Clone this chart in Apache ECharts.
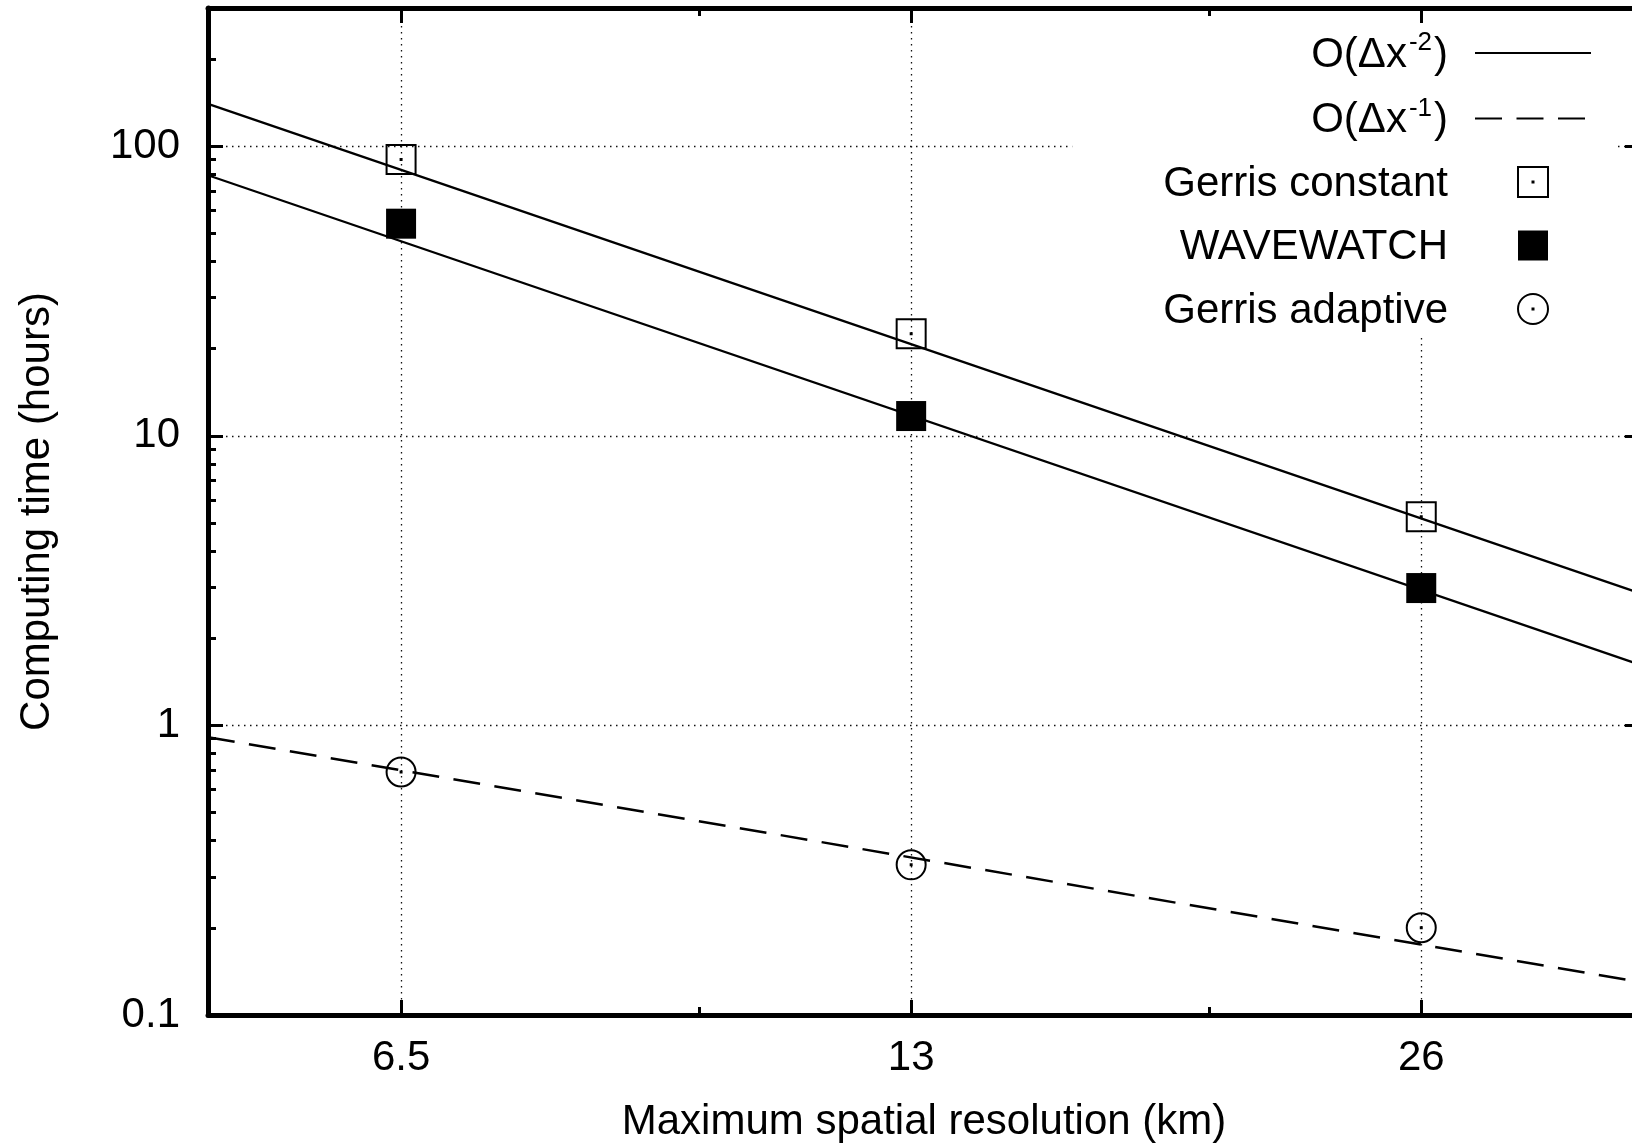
<!DOCTYPE html>
<html>
<head>
<meta charset="utf-8">
<script src="https://cdn.jsdelivr.net/npm/echarts@6.0.0/dist/echarts.min.js"></script>
<style>
  html, body { margin: 0; padding: 0; background: #fff; }
  #chart { width: 1632px; height: 1147px; }
</style>
</head>
<body>
<div id="chart"></div>
<script>
// x: maximum spatial resolution (km), y: computing time (hours)
const resolutions = [6.5, 13, 26];
const xMinorTicks = [9.75, 19.5];
const yMajorTicks = [0.1, 1, 10, 100];
const yMinorTicks = [0.2, 0.3, 0.4, 0.5, 0.6, 0.7, 0.8, 0.9,
  2, 3, 4, 5, 6, 7, 8, 9, 20, 30, 40, 50, 60, 70, 80, 90, 200];

const gerrisConstant = [90, 22.5, 5.25];
const wavewatch = [54, 11.7, 2.98];
const gerrisAdaptive = [0.69, 0.33, 0.2];

// reference slopes, end values read at the plot edges
const slopeX = [5, 35];
const slope2Upper = [140, 2.86];
const slope2Lower = [79.4, 1.62];
const slope1 = [0.91, 0.13];

const FONT = 'Liberation Sans, Arial, Helvetica, sans-serif';
const FS = 42;
const black = '#000';
const clear = 'rgba(0,0,0,0)';
const openSquare = 'path://M0,0H30V30H0Z M14.5,14.5H15.5V15.5H14.5Z';
const fullSquare = 'path://M0,0H30V30H0Z';
const openCircle = 'path://M0,15A15,15,0,1,1,30,15A15,15,0,1,1,0,15Z M14.5,14.5H15.5V15.5H14.5Z';

const O2 = 'O(Δx^-2)';
const O1 = 'O(Δx^-1)';

function zip(xs, ys) {
  return xs.map((x, i) => [x, ys[i]]);
}

function tickAxis(kind, position, ticks, length, extra) {
  const base = kind === 'x'
    ? { type: 'log', logBase: 2, min: 5, max: 35 }
    : { type: 'log', logBase: 10, min: 0.1, max: 300 };
  return Object.assign(base, {
    position: position,
    axisLine: { show: false },
    axisTick: { show: true, inside: true, length: length, customValues: ticks,
      lineStyle: { color: black, width: 3 } },
    axisLabel: { show: false },
    splitLine: { show: false }
  }, extra || {});
}

const border = { show: true, onZero: false, lineStyle: { color: black, width: 5 } };
const dotted = { show: true, lineStyle: { color: '#111', width: 1.3, type: [1.5, 4.5] } };
const fmt = v => String(+Number(v).toPrecision(3));

const chart = echarts.init(document.getElementById('chart'));
chart.setOption({
  animation: false,
  grid: { left: 208, width: 1432, top: 8, height: 1007, outerBoundsMode: 'none', containLabel: false },
  xAxis: [
    tickAxis('x', 'bottom', resolutions, 15, {
      axisLine: border,
      axisLabel: { show: true, customValues: resolutions, formatter: fmt,
        color: black, fontFamily: FONT, fontSize: FS, margin: 22 },
      splitLine: dotted,
      name: 'Maximum spatial resolution (km)', nameLocation: 'middle', nameGap: 86,
      nameTextStyle: { color: black, fontFamily: FONT, fontSize: FS }
    }),
    tickAxis('x', 'bottom', xMinorTicks, 8),
    tickAxis('x', 'top', resolutions, 15, { axisLine: border }),
    tickAxis('x', 'top', xMinorTicks, 8)
  ],
  yAxis: [
    tickAxis('y', 'left', yMajorTicks, 15, {
      axisLine: border,
      axisLabel: { show: true, customValues: yMajorTicks, formatter: fmt,
        color: black, fontFamily: FONT, fontSize: FS, margin: 28 },
      splitLine: dotted,
      name: 'Computing time (hours)', nameLocation: 'middle', nameGap: 150,
      nameTextStyle: { color: black, fontFamily: FONT, fontSize: FS }
    }),
    tickAxis('y', 'left', yMinorTicks, 8),
    tickAxis('y', 'right', yMajorTicks, 15, { axisLine: border }),
    tickAxis('y', 'right', yMinorTicks, 8)
  ],
  legend: {
    orient: 'vertical', align: 'right', right: 15, top: 24,
    padding: [6, 25, 6, 91], backgroundColor: '#fff',
    itemWidth: 116, itemHeight: 30, itemGap: 19.5, selectedMode: false,
    textStyle: {
      color: black, fontFamily: FONT, fontSize: FS,
      rich: {
        t: { color: black, fontFamily: FONT, fontSize: FS, lineHeight: 46, verticalAlign: 'bottom' },
        s: { color: black, fontFamily: FONT, fontSize: 26, lineHeight: 10, verticalAlign: 'top',
          padding: [0, 2, 0, 2] },
        g: { width: 22, fontSize: FS, lineHeight: 46 }
      }
    },
    formatter: function (name) {
      if (name === O2) return '{t|O(Δx}{s|-2}{t|)}{g| }';
      if (name === O1) return '{t|O(Δx}{s|-1}{t|)}{g| }';
      return '{t|' + name + '}{g| }';
    },
    data: [
      { name: O2, itemStyle: { color: clear, borderWidth: 0 } },
      { name: O1, itemStyle: { color: clear, borderWidth: 0 } },
      { name: 'Gerris constant', icon: openSquare,
        itemStyle: { color: clear, borderColor: black, borderWidth: 2, opacity: 1 } },
      { name: 'WAVEWATCH', icon: fullSquare, itemStyle: { color: black, borderWidth: 0, opacity: 1 } },
      { name: 'Gerris adaptive', icon: openCircle,
        itemStyle: { color: clear, borderColor: black, borderWidth: 2, opacity: 1 } }
    ]
  },
  series: [
    { name: O2, type: 'line', symbol: 'none', data: zip(slopeX, slope2Upper),
      itemStyle: { color: clear }, lineStyle: { color: black, width: 2.2 } },
    { name: O2, type: 'line', symbol: 'none', data: zip(slopeX, slope2Lower),
      itemStyle: { color: clear }, lineStyle: { color: black, width: 2.2 } },
    { name: O1, type: 'line', symbol: 'none', data: zip(slopeX, slope1),
      itemStyle: { color: clear }, lineStyle: { color: black, width: 2.5, type: [27, 14.5] } },
    { name: 'Gerris constant', type: 'scatter', symbol: openSquare, symbolSize: 29,
      data: zip(resolutions, gerrisConstant),
      itemStyle: { color: clear, borderColor: black, borderWidth: 2, opacity: 1 } },
    { name: 'WAVEWATCH', type: 'scatter', symbol: 'rect', symbolSize: 30,
      data: zip(resolutions, wavewatch), itemStyle: { color: black, opacity: 1 } },
    { name: 'Gerris adaptive', type: 'scatter', symbol: openCircle, symbolSize: 29,
      data: zip(resolutions, gerrisAdaptive),
      itemStyle: { color: clear, borderColor: black, borderWidth: 2, opacity: 1 } }
  ]
});
window.addEventListener('resize', () => chart.resize());
</script>
</body>
</html>
